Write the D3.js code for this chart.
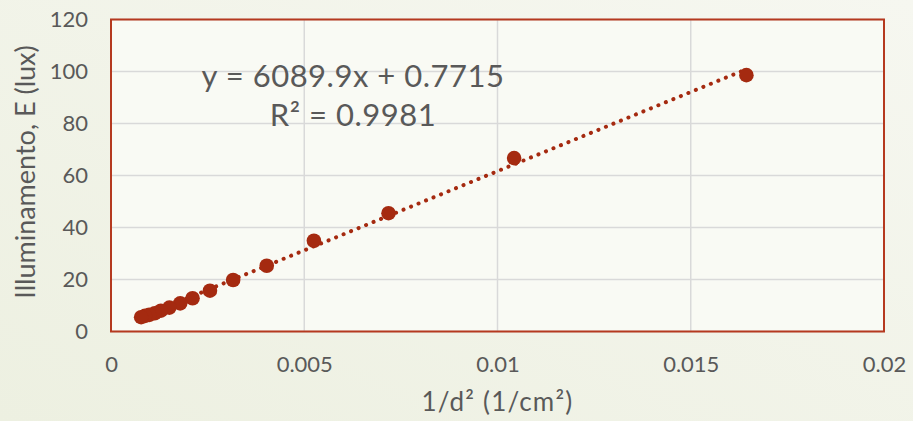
<!DOCTYPE html>
<html>
<head>
<meta charset="utf-8">
<script src="https://cdn.jsdelivr.net/npm/d3@7"></script>
<style>
  body { margin: 0; background: #f2f4e9; }
  svg { display: block; }
</style>
</head>
<body>
<svg id="chart" width="913" height="421"></svg>
<script>
const invD2 = [0.01644, 0.01043, 0.00718, 0.00525, 0.00403, 0.00316, 0.00256, 0.00211,
               0.00179, 0.00151, 0.00129, 0.00113, 0.00099, 0.00088, 0.00078]
const lux = [98.6, 66.7, 45.5, 34.9, 25.3, 19.8, 15.7, 12.8, 10.8, 9.2, 8.0, 7.0, 6.4, 6.0, 5.5]

const xTicks = [0, 0.005, 0.01, 0.015, 0.02]
const yTicks = [0, 20, 40, 60, 80, 100, 120]

// linear trend as shown by the spreadsheet
const slope = 6089.9
const intercept = 0.7715
const eqLines = ['y = 6089.9x + 0.7715', 'R² = 0.9981']

const width = 913, height = 421
const margin = {top: 19.5, right: 29, bottom: 89.5, left: 111}
const font = 'Lato, "Noto Sans", sans-serif'
const textColor = '#595959'
const red = '#a52a10'

const svg = d3.select('#chart')

// soft background
const defs = svg.append('defs')
const bg = defs.append('linearGradient').attr('id', 'bg')
  .attr('x1', 0).attr('y1', 1).attr('x2', 1).attr('y2', 0)
bg.append('stop').attr('offset', 0).attr('stop-color', '#edf0e1')
bg.append('stop').attr('offset', 1).attr('stop-color', '#f6f7f0')

svg.append('rect').attr('width', width).attr('height', height).attr('fill', 'url(#bg)')

const x = d3.scaleLinear().domain([0, 0.02]).range([margin.left, width - margin.right])
const y = d3.scaleLinear().domain([0, 120]).range([height - margin.bottom, margin.top])

// plot area
svg.append('rect')
  .attr('x', x(0)).attr('y', y(120))
  .attr('width', x(0.02) - x(0)).attr('height', y(0) - y(120))
  .attr('fill', '#f9faf4')

// gridlines
svg.append('g')
  .selectAll('line.h')
  .data(yTicks)
  .join('line')
  .attr('x1', x(0)).attr('x2', x(0.02))
  .attr('y1', d => y(d)).attr('y2', d => y(d))
  .attr('stroke', '#d9d9d9').attr('stroke-width', 1.5)

svg.append('g')
  .selectAll('line.v')
  .data(xTicks)
  .join('line')
  .attr('y1', y(0)).attr('y2', y(120))
  .attr('x1', d => x(d)).attr('x2', d => x(d))
  .attr('stroke', '#d9d9d9').attr('stroke-width', 1.5)

// plot border
svg.append('rect')
  .attr('x', x(0)).attr('y', y(120))
  .attr('width', x(0.02) - x(0)).attr('height', y(0) - y(120))
  .attr('fill', 'none')
  .attr('stroke', '#b5391f').attr('stroke-width', 2)

// axes (labels only, the lines come from the border)
const xAxis = svg.append('g')
  .attr('transform', `translate(0, ${y(0)})`)
  .call(d3.axisBottom(x).tickValues(xTicks).tickSize(0).tickPadding(25)
    .tickFormat(d => d === 0 ? '0' : String(+d.toFixed(3))))
xAxis.select('.domain').remove()
xAxis.selectAll('text').attr('font-family', font).attr('font-size', 22).attr('fill', textColor)

const yAxis = svg.append('g')
  .attr('transform', `translate(${x(0)}, 0)`)
  .call(d3.axisLeft(y).tickValues(yTicks).tickSize(0).tickPadding(23))
yAxis.select('.domain').remove()
yAxis.selectAll('text').attr('font-family', font).attr('font-size', 22).attr('fill', textColor)

// trend line, round dots
const xs = d3.extent(invD2)
svg.append('line')
  .attr('x1', x(xs[0])).attr('y1', y(slope * xs[0] + intercept))
  .attr('x2', x(xs[1])).attr('y2', y(slope * xs[1] + intercept))
  .attr('stroke', red).attr('stroke-width', 4)
  .attr('stroke-linecap', 'round')
  .attr('stroke-dasharray', '0.1 8')

// markers
svg.append('g')
  .selectAll('circle')
  .data(invD2.map((d, i) => [d, lux[i]]))
  .join('circle')
  .attr('cx', d => x(d[0]))
  .attr('cy', d => y(d[1]))
  .attr('r', 7.3)
  .attr('fill', red)

// equation label
svg.append('text')
  .attr('font-family', font).attr('font-size', 31).attr('fill', textColor)
  .attr('letter-spacing', 0.5)
  .attr('text-anchor', 'middle')
  .selectAll('tspan')
  .data(eqLines)
  .join('tspan')
  .attr('x', 353)
  .attr('y', (d, i) => 87 + i * 39)
  .text(d => d)

// axis titles
svg.append('text')
  .attr('transform', `translate(35, 172) rotate(-90)`)
  .attr('text-anchor', 'middle')
  .attr('font-family', font).attr('font-size', 27).attr('fill', textColor)
  .text('Illuminamento, E (lux)')

svg.append('text')
  .attr('x', x(0.01)).attr('y', 411)
  .attr('text-anchor', 'middle')
  .attr('font-family', font).attr('font-size', 26).attr('fill', textColor)
  .attr('letter-spacing', 1.2)
  .text('1/d² (1/cm²)')
</script>
</body>
</html>
